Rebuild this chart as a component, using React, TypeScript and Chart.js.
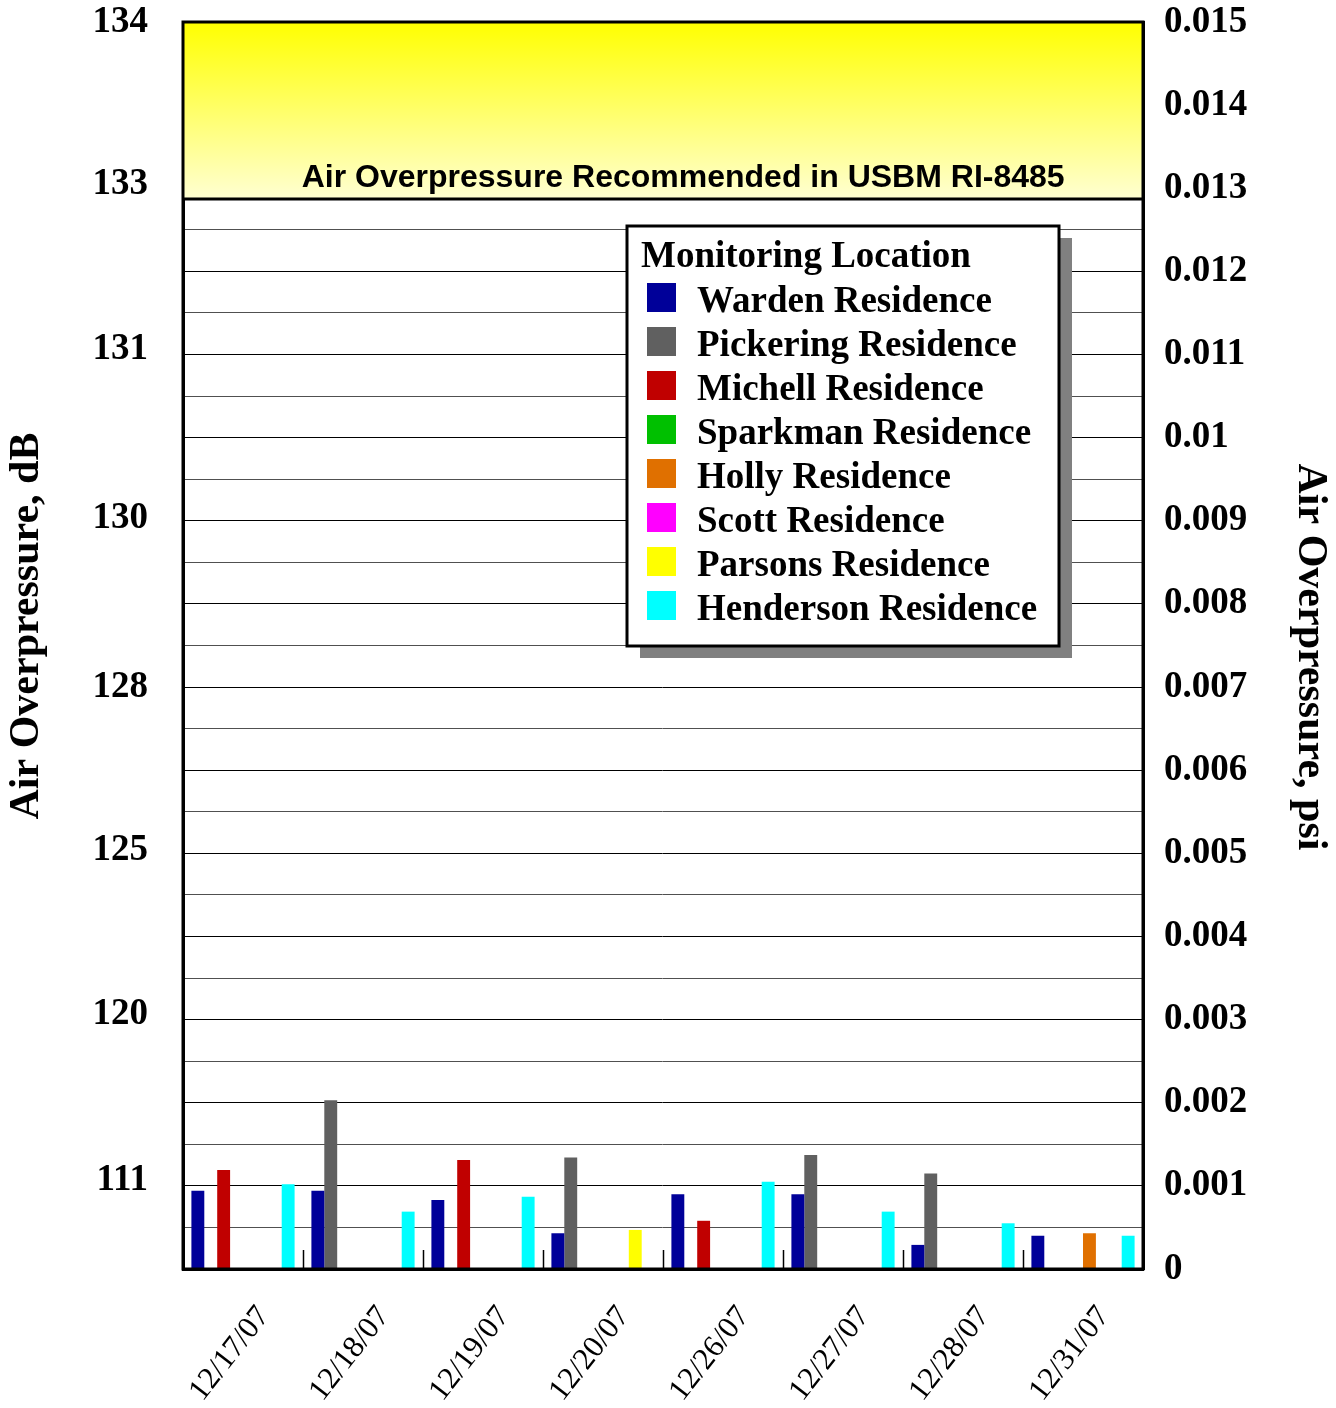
import React, { useEffect, useRef } from 'react';
import { Chart, registerables } from 'chart.js';

Chart.register(...registerables);

// ---------- data ----------
const categories = ['12/17/07', '12/18/07', '12/19/07', '12/20/07', '12/26/07', '12/27/07', '12/28/07', '12/31/07'];

const seriesNames = [
  'Warden Residence',
  'Pickering Residence',
  'Michell Residence',
  'Sparkman Residence',
  'Holly Residence',
  'Scott Residence',
  'Parsons Residence',
  'Henderson Residence',
];
const seriesColors = ['#000099', '#606060', '#C00000', '#00C000', '#E07000', '#FF00FF', '#FFFF00', '#00FFFF'];

// values in psi
const warden = [0.00094, 0.00094, 0.00083, 0.00043, 0.0009, 0.0009, 0.00029, 0.0004];
const pickering = [null, 0.00203, null, 0.00134, null, 0.00137, 0.00115, null];
const michell = [0.00119, null, 0.00131, null, 0.00058, null, null, null];
const sparkman = [null, null, null, null, null, null, null, null];
const holly = [null, null, null, null, null, null, null, 0.00043];
const scott = [null, null, null, null, null, null, null, null];
const parsons = [null, null, null, 0.00047, null, null, null, null];
const henderson = [0.00102, 0.00069, 0.00087, null, 0.00105, 0.00069, 0.00055, 0.0004];

const seriesValues = [warden, pickering, michell, sparkman, holly, scott, parsons, henderson];

// axes
const psiMin = 0;
const psiMax = 0.015;
const psiGridStep = 0.0005;
const psiLabelStep = 0.001;
const dbTickPsi = [0.015, 0.01305, 0.01106, 0.00903, 0.007, 0.00503, 0.00306, 0.00107];
const dbTickLabels = ['134', '133', '131', '130', '128', '125', '120', '111'];

const limitPsi = 0.01287;
const limitText = 'Air Overpressure Recommended in USBM RI-8485';
const leftTitle = 'Air Overpressure, dB';
const rightTitle = 'Air Overpressure, psi';
const legendTitle = 'Monitoring Location';

const SERIF = '"Liberation Serif", "Times New Roman", serif';
const SANS = '"Liberation Sans", Arial, sans-serif';

const decorPlugin = {
  id: 'decor',
  afterDraw(chart: any) {
    const { ctx, chartArea: ca, scales } = chart;
    const yS = scales.y;
    const xS = scales.x;
    const w = ca.right - ca.left;
    const h = ca.bottom - ca.top;
    ctx.save();

    // recommended-limit band
    const yLim = yS.getPixelForValue(limitPsi);
    const g = ctx.createLinearGradient(0, ca.top, 0, yLim);
    g.addColorStop(0, '#FFFF00');
    g.addColorStop(1, '#FFFFD2');
    ctx.fillStyle = g;
    ctx.fillRect(ca.left, ca.top, w, yLim - ca.top);
    ctx.strokeStyle = '#000';
    ctx.lineWidth = 3;
    ctx.beginPath();
    ctx.moveTo(ca.left, yLim);
    ctx.lineTo(ca.right, yLim);
    ctx.stroke();
    ctx.fillStyle = '#000';
    ctx.font = `bold 32px ${SANS}`;
    ctx.textAlign = 'center';
    ctx.textBaseline = 'alphabetic';
    ctx.fillText(limitText, ca.left + w * 0.521, yLim - 12);

    // inner category separator ticks
    ctx.lineWidth = 1.5;
    const n = chart.data.labels.length;
    for (let i = 1; i < n; i++) {
      const x = Math.round((xS.getPixelForTick(i - 1) + xS.getPixelForTick(i)) / 2) + 0.5;
      ctx.beginPath();
      ctx.moveTo(x, ca.bottom - 19);
      ctx.lineTo(x, ca.bottom);
      ctx.stroke();
    }

    // outer frame
    ctx.lineWidth = 3;
    ctx.strokeRect(ca.left, ca.top, w, h);

    // legend
    const lx = ca.left + 444;
    const ly = ca.top + 204;
    const lw = 432;
    const lh = 420;
    ctx.fillStyle = '#808080';
    ctx.fillRect(lx + 13, ly + 12, lw, lh);
    ctx.fillStyle = '#fff';
    ctx.fillRect(lx, ly, lw, lh);
    ctx.lineWidth = 3;
    ctx.strokeStyle = '#000';
    ctx.strokeRect(lx, ly, lw, lh);
    ctx.fillStyle = '#000';
    ctx.textAlign = 'left';
    ctx.textBaseline = 'alphabetic';
    ctx.font = `bold 37px ${SERIF}`;
    ctx.fillText(legendTitle, lx + 14, ly + 41);
    chart.data.datasets.forEach((ds: any, i: number) => {
      ctx.fillStyle = ds.backgroundColor;
      ctx.fillRect(lx + 20, ly + 57 + 44 * i, 29, 29);
      ctx.fillStyle = '#000';
      ctx.fillText(ds.label, lx + 70, ly + 86 + 44 * i);
    });

    // axis titles
    ctx.font = `bold 42px ${SERIF}`;
    ctx.textAlign = 'center';
    ctx.save();
    ctx.translate(38, 626);
    ctx.rotate(-Math.PI / 2);
    ctx.fillText(leftTitle, 0, 0);
    ctx.restore();
    ctx.save();
    ctx.translate(1299, 657);
    ctx.rotate(Math.PI / 2);
    ctx.fillText(rightTitle, 0, 0);
    ctx.restore();

    ctx.restore();
  },
};

export default function App() {
  const ref = useRef<HTMLCanvasElement>(null);

  useEffect(() => {
    const datasets = seriesNames.map((name, i) => ({
      label: name,
      data: seriesValues[i],
      backgroundColor: seriesColors[i],
      borderWidth: 0,
      yAxisID: 'y',
      categoryPercentage: 0.86,
      barPercentage: 1.0,
    }));

    const chart = new Chart(ref.current as HTMLCanvasElement, {
      type: 'bar',
      data: { labels: categories, datasets },
      plugins: [decorPlugin],
      options: {
        animation: false,
        responsive: false,
        devicePixelRatio: 1,
        layout: { padding: { top: 22, left: 0, right: 0, bottom: 0 } },
        plugins: {
          legend: { display: false },
          tooltip: { enabled: false },
          title: { display: false },
        },
        scales: {
          x: {
            type: 'category',
            grid: { display: false, drawTicks: false },
            border: { display: true, width: 3, color: '#000' },
            ticks: {
              color: '#000',
              font: { family: SERIF, size: 31 },
              minRotation: 52,
              maxRotation: 52,
              labelOffset: 21,
              padding: 30,
              autoSkip: false,
            },
            afterFit: (s: any) => {
              s.height = 139;
              s.paddingLeft = 0;
              s.paddingRight = 0;
            },
          },
          yL: {
            type: 'linear',
            position: 'left',
            min: psiMin,
            max: psiMax,
            grid: { display: false, drawTicks: false },
            border: { display: true, width: 3, color: '#000' },
            afterBuildTicks: (s: any) => {
              s.ticks = dbTickPsi.map((v) => ({ value: v }));
            },
            ticks: {
              autoSkip: false,
              color: '#000',
              font: { family: SERIF, size: 37, weight: 'bold' },
              padding: 35,
              callback: (_v: any, i: number) => dbTickLabels[i],
            },
            afterFit: (s: any) => {
              s.width = 183;
              s.paddingTop = 0;
              s.paddingBottom = 0;
            },
          },
          y: {
            type: 'linear',
            position: 'right',
            min: psiMin,
            max: psiMax,
            z: 1,
            grid: {
              drawTicks: false,
              lineWidth: 1,
              color: (c: any) => {
                const v = c.tick ? c.tick.value : 0;
                const k = v / psiLabelStep;
                return Math.abs(k - Math.round(k)) < 1e-6 ? '#000' : '#505050';
              },
            },
            border: { display: true, width: 3, color: '#000' },
            ticks: {
              autoSkip: false,
              stepSize: psiGridStep,
              color: '#000',
              font: { family: SERIF, size: 37, weight: 'bold' },
              padding: 21,
              callback: (v: any) => {
                const k = v / psiLabelStep;
                if (Math.abs(k - Math.round(k)) > 1e-6) return '';
                return String(Number(Number(v).toFixed(4)));
              },
            },
            afterFit: (s: any) => {
              s.width = 193;
              s.paddingTop = 0;
              s.paddingBottom = 0;
            },
          },
        },
      } as any,
    });

    return () => chart.destroy();
  }, []);

  return (
    <div style={{ position: 'absolute', left: 0, top: 0, width: 1336, height: 1408, background: '#fff' }}>
      <canvas ref={ref} width={1336} height={1408} style={{ display: 'block', width: 1336, height: 1408 }} />
    </div>
  );
}
